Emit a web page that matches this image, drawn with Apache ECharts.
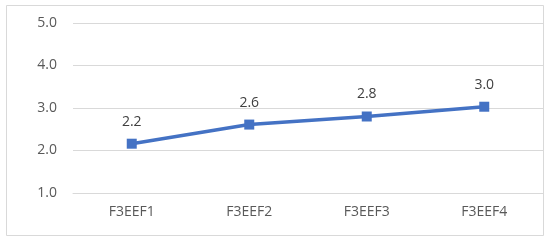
<!DOCTYPE html>
<html>
<head>
<meta charset="utf-8">
<script src="https://cdn.jsdelivr.net/npm/echarts@6/dist/echarts.min.js"></script>
<style>
html,body{margin:0;padding:0;background:#fff;}
#chart{width:550px;height:243px;}
</style>
</head>
<body>
<div id="chart"></div>
<script>
const categories = ['F3EEF1', 'F3EEF2', 'F3EEF3', 'F3EEF4'];
const values = [2.16, 2.61, 2.8, 3.03];
const yTicks = [1, 2, 3, 4, 5];

const chart = echarts.init(document.getElementById('chart'), null, {renderer: 'canvas'});
const font = '"Open Sans", "Noto Sans", sans-serif';
chart.setOption({
  animation: false,
  backgroundColor: '#ffffff',
  graphic: [{
    type: 'rect',
    shape: {x: 6.5, y: 5.5, width: 537, height: 230},
    style: {fill: 'none', stroke: '#d9d9d9', lineWidth: 1},
    silent: true
  }],
  grid: {left: 73, right: 7, top: 23, bottom: 50, containLabel: false},
  xAxis: {
    type: 'category',
    data: categories,
    boundaryGap: true,
    axisLine: {show: true, lineStyle: {color: '#d9d9d9', width: 1}},
    axisTick: {show: false},
    axisLabel: {color: '#595959', fontSize: 14, fontFamily: font, margin: 12}
  },
  yAxis: {
    type: 'value',
    min: yTicks[0],
    max: yTicks[yTicks.length - 1],
    interval: 1,
    axisLine: {show: false},
    axisTick: {show: false},
    splitLine: {lineStyle: {color: '#d9d9d9', width: 1}},
    axisLabel: {color: '#595959', fontSize: 14, fontFamily: font, margin: 16,
      formatter: v => v.toFixed(1)}
  },
  series: [{
    type: 'line',
    data: values,
    symbol: 'rect',
    symbolSize: 10,
    lineStyle: {color: '#4472c4', width: 3.5},
    itemStyle: {color: '#4472c4'},
    label: {
      show: true, position: 'top', distance: 10,
      color: '#404040', fontSize: 14, fontFamily: font,
      formatter: p => (Math.round(p.value * 10) / 10).toFixed(1)
    }
  }]
});
</script>
</body>
</html>
